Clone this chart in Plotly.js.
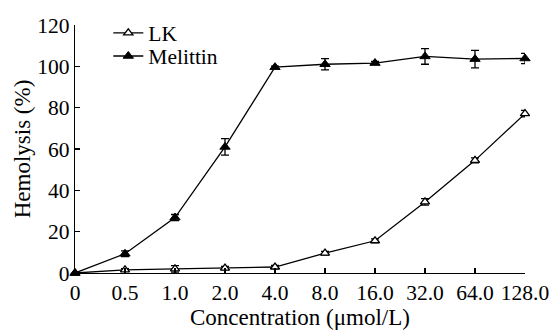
<!DOCTYPE html>
<html>
<head>
<meta charset="utf-8">
<script src="https://cdn.plot.ly/plotly-3.0.1.min.js"></script>
<style>html,body{margin:0;padding:0;background:#fff}#chart{width:556px;height:330px}</style>
</head>
<body>
<div id="chart"></div>
<script>
const categories = ["0", "0.5", "1.0", "2.0", "4.0", "8.0", "16.0", "32.0", "64.0", "128.0"];
const lkValues = [0, 1.5, 2.0, 2.4, 2.9, 9.6, 15.6, 34.4, 54.5, 77.1];
const lkErrors = [0, 0.6, 1.6, 0.8, 0.8, 0.9, 0.9, 1.6, 1.2, 1.6];
const melittinValues = [0, 9.3, 26.8, 61.0, 99.6, 101.0, 101.6, 104.8, 103.5, 103.8];
const melittinErrors = [0, 1.4, 1.5, 4.0, 0.5, 2.7, 0.8, 3.8, 4.2, 2.5];
const yTicks = [0, 20, 40, 60, 80, 100, 120];

const fam = "Liberation Serif, Times New Roman, serif";
const font = {family: fam, size: 21.5, color: "#000"};
const titleFont = {family: fam, size: 23, color: "#000"};

const traces = [
  {
    name: "LK", x: categories, y: lkValues, type: "scatter", mode: "lines+markers",
    legend: "legend",
    line: {color: "#000", width: 1.3},
    marker: {symbol: "triangle-up", size: 8, color: "#fff", line: {color: "#000", width: 1.3}},
    error_y: {type: "data", array: lkErrors, visible: true, color: "#000", thickness: 1.3, width: 4},
    cliponaxis: false
  },
  {
    name: "Melittin", x: categories, y: melittinValues, type: "scatter", mode: "lines+markers",
    legend: "legend2",
    line: {color: "#000", width: 1.3},
    marker: {symbol: "triangle-up", size: 9, color: "#000", line: {color: "#000", width: 1}},
    error_y: {type: "data", array: melittinErrors, visible: true, color: "#000", thickness: 1.3, width: 4},
    cliponaxis: false
  }
];

const legendBase = {
  xanchor: "left", yanchor: "middle", bgcolor: "rgba(0,0,0,0)", font: font,
  itemwidth: 30, borderwidth: 0
};

const layout = {
  width: 556, height: 330,
  margin: {l: 75, r: 31, t: 25, b: 57},
  paper_bgcolor: "#fff", plot_bgcolor: "#fff",
  font: font,
  showlegend: true,
  legend: Object.assign({}, legendBase, {x: 0.074, y: 0.968}),
  legend2: Object.assign({}, legendBase, {x: 0.074, y: 0.875}),
  xaxis: {
    type: "category", range: [0, 9],
    showline: true, linecolor: "#000", linewidth: 1.3,
    ticks: "inside", ticklen: 5, tickwidth: 1.3, tickcolor: "#000",
    showgrid: false, zeroline: false,
    tickfont: font,
    title: {text: "Concentration (μmol/L)", font: titleFont, standoff: 4},
    automargin: false
  },
  yaxis: {
    range: [0, 120], tickvals: yTicks,
    showline: true, linecolor: "#000", linewidth: 1.3,
    ticks: "inside", ticklen: 5, tickwidth: 1.3, tickcolor: "#000",
    showgrid: false, zeroline: false,
    tickfont: font,
    title: {text: "Hemolysis (%)", font: titleFont, standoff: 0},
    automargin: false
  }
};

Plotly.newPlot("chart", traces, layout, {displayModeBar: false, staticPlot: true});
</script>
</body>
</html>
